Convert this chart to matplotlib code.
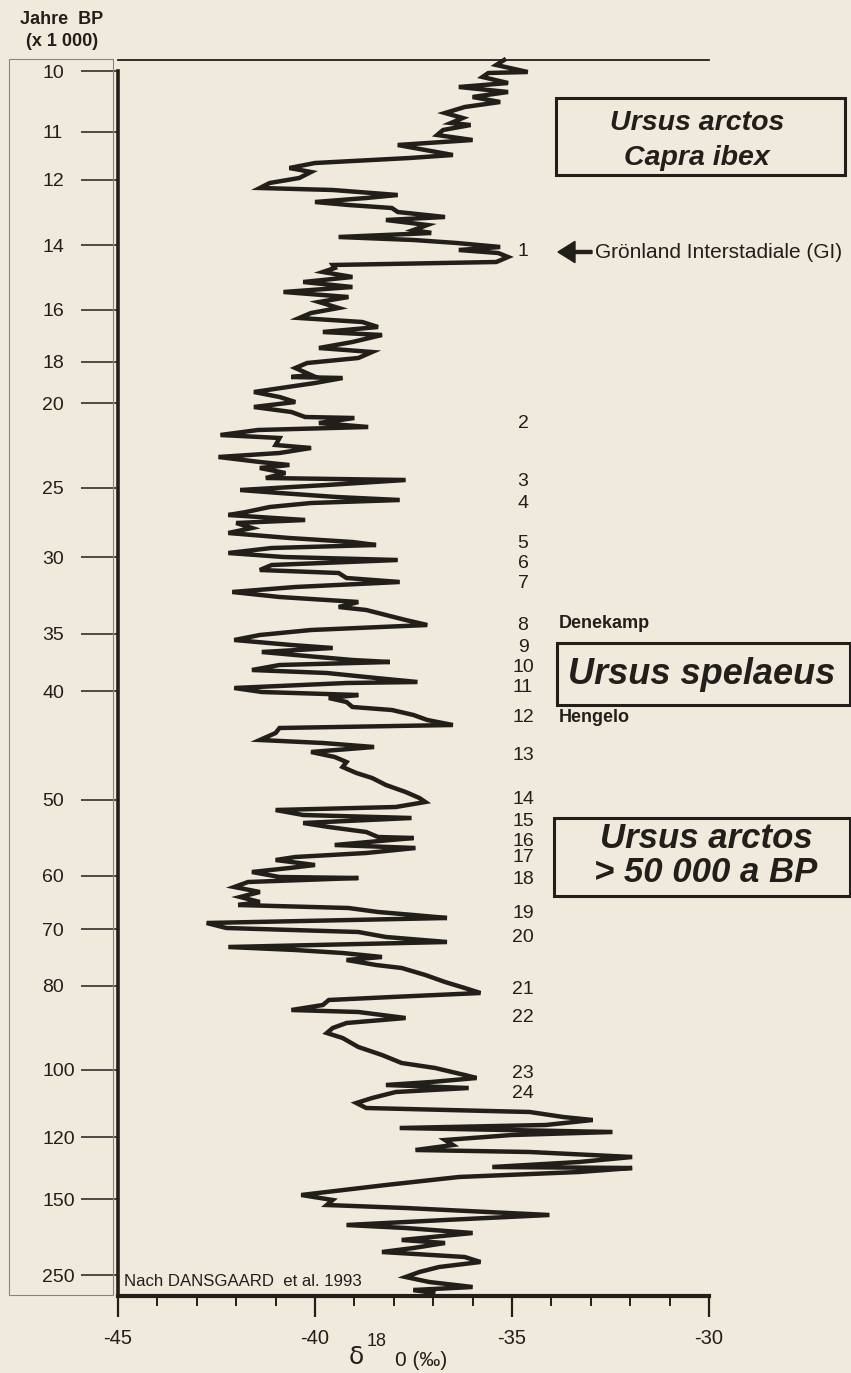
import matplotlib.pyplot as plt
from matplotlib.patches import Rectangle, FancyArrow
from matplotlib.ticker import MultipleLocator

# GRIP-Kurve: Kerntiefe (relative Einheiten) und delta 18 O (Promille)
tiefe = [0, 5, 12, 13, 17, 23, 27, 32, 37, 42, 47, 53, 58, 63, 65, 70, 75, 80, 85, 90,
         95, 98, 103, 108, 112, 118, 123, 128, 130, 135, 138, 142, 145, 148, 152, 157, 160, 165, 170, 173,
         177, 180, 183, 187, 190, 193, 197, 202, 205, 208, 212, 217, 222, 227, 232, 237, 242, 248, 253, 258,
         262, 267, 272, 275, 282, 288, 292, 298, 303, 308, 315, 317, 318, 323, 332, 337, 342, 347, 352, 357,
         358, 363, 367, 370, 375, 378, 385, 388, 393, 397, 402, 405, 408, 413, 418, 420, 425, 430, 433, 437,
         440, 443, 447, 452, 455, 460, 463, 468, 473, 478, 482, 485, 488, 493, 497, 500, 505, 510, 513, 518,
         522, 527, 532, 537, 542, 547, 550, 555, 560, 565, 570, 575, 580, 585, 588, 592, 595, 600, 602, 605,
         610, 613, 618, 622, 623, 628, 632, 635, 638, 642, 647, 650, 655, 660, 665, 668, 673, 680, 683, 687,
         692, 697, 702, 707, 713, 718, 725, 732, 738, 742, 747, 750, 755, 758, 763, 767, 772, 777, 778, 785,
         788, 793, 797, 800, 805, 808, 812, 817, 818, 822, 827, 832, 837, 842, 845, 848, 852, 855, 858, 863,
         868, 872, 877, 882, 887, 890, 893, 897, 900, 905, 908, 915, 922, 928, 933, 937, 940, 945, 950, 952,
         955, 958, 963, 968, 973, 978, 987, 995, 1003, 1008, 1015, 1018, 1022, 1025, 1028, 1032, 1038, 1043, 1048, 1052,
         1057, 1060, 1065, 1068, 1072, 1075, 1080, 1085, 1090, 1092, 1097, 1102, 1107, 1108, 1112, 1117, 1122, 1125, 1135, 1140,
         1145, 1148, 1155, 1160, 1165, 1168, 1173, 1180, 1183, 1188, 1192, 1197, 1202, 1207, 1212, 1217, 1222, 1227, 1230, 1233]
d18o = [-35.2, -35.4, -34.6, -35.6, -35.75, -35.1, -36.35, -35.1, -36.0, -35.3, -36.2, -36.7, -36.25, -36.55, -36.05, -36.75, -36.9, -36.0, -37.9, -37.2,
        -36.5, -37.6, -40.0, -40.65, -40.1, -40.4, -41.15, -41.4, -39.55, -37.9, -38.7, -40.0, -39.15, -38.05, -37.9, -36.7, -38.2, -37.15, -37.5, -37.05,
        -39.4, -37.5, -36.4, -35.3, -36.35, -35.35, -35.1, -35.4, -39.55, -39.5, -39.8, -39.05, -40.3, -39.05, -40.8, -39.15, -39.9, -39.4, -40.1, -40.4,
        -38.8, -38.4, -39.8, -38.3, -39.05, -39.9, -38.55, -38.9, -40.2, -40.5, -40.1, -40.6, -39.3, -40.0, -41.55, -40.9, -40.5, -41.55, -40.6, -40.25,
        -39.0, -39.9, -38.65, -41.45, -42.4, -40.9, -41.0, -40.1, -40.9, -42.45, -41.4, -40.65, -41.4, -40.75, -41.25, -37.7, -39.7, -41.9, -40.9, -39.45,
        -37.85, -40.1, -41.15, -41.75, -42.2, -40.25, -42.0, -41.6, -42.2, -40.65, -39.05, -38.45, -41.1, -42.2, -40.8, -37.9, -41.1, -41.4, -39.4, -39.2,
        -37.85, -40.5, -42.1, -40.9, -38.9, -39.4, -38.7, -38.2, -37.7, -37.15, -40.1, -41.4, -42.05, -40.6, -39.55, -41.35, -40.5, -39.05, -38.1, -40.9,
        -41.6, -39.7, -38.45, -37.4, -39.2, -42.05, -41.35, -38.9, -39.65, -39.2, -39.05, -38.05, -37.5, -37.15, -36.5, -40.9, -41.0, -41.4, -39.8, -38.5,
        -40.1, -39.5, -39.2, -39.3, -38.95, -38.55, -38.2, -37.7, -37.35, -37.2, -37.95, -41.0, -40.3, -37.55, -40.3, -39.65, -38.7, -38.4, -37.5, -39.5,
        -37.45, -38.7, -40.5, -41.0, -40.0, -40.65, -41.6, -40.9, -38.9, -41.7, -42.05, -41.4, -41.9, -41.4, -41.95, -39.15, -38.4, -37.5, -36.65, -42.75,
        -42.25, -38.9, -38.2, -36.65, -42.2, -40.5, -39.3, -38.3, -39.2, -38.45, -37.8, -37.2, -36.7, -36.2, -35.8, -38.05, -39.65, -39.8, -40.6, -38.9,
        -38.3, -37.7, -39.2, -39.55, -39.7, -39.3, -38.9, -38.3, -37.8, -36.95, -36.2, -35.9, -37.05, -38.2, -36.1, -37.95, -38.55, -38.95, -38.7, -34.55,
        -33.7, -32.95, -34.15, -37.85, -32.45, -35.0, -36.7, -36.5, -37.45, -34.55, -31.95, -33.3, -35.5, -31.95, -33.3, -36.35, -37.5, -38.2, -40.35, -39.55,
        -39.7, -37.7, -34.05, -36.7, -39.2, -37.7, -36.0, -37.8, -36.7, -37.5, -38.3, -36.2, -35.8, -36.85, -37.35, -37.7, -37.1, -36.0, -37.5, -37.0]

# Altersskala (Jahre BP x 1000) an der Kerntiefe
tick_tiefe = [11, 72, 120, 185, 250, 302, 343, 428, 497, 574, 631, 740, 816, 869, 926, 1010, 1077, 1139, 1215]
tick_alter = ["10", "11", "12", "14", "16", "18", "20", "25", "30", "35", "40", "50", "60", "70", "80",
              "100", "120", "150", "250"]

# Groenland-Interstadiale 1-24
gi_nr = [str(i) for i in range(1, 25)]
gi_tiefe = [192, 364, 422, 443, 484, 504, 524, 565, 587, 607, 627, 658, 696, 740, 761, 781, 798, 819,
            853, 878, 930, 958, 1014, 1034]

W, H = 851, 1373
bg = "#f0eadc"
ink = "#221e1a"
plt.rcParams["font.family"] = ["Liberation Sans", "DejaVu Sans"]


def fx(x):
    return x / W


def fy(y):
    return 1 - y / H


fig = plt.figure(figsize=(W / 100, H / 100), dpi=100, facecolor=bg)
ax = fig.add_axes([fx(118), fy(1296), fx(709 - 118), (1296 - 60) / H])
ax.set_facecolor(bg)

ax.plot(d18o, tiefe, color=ink, lw=3.2, solid_joinstyle="miter", clip_on=False)

ax.set_xlim(-45, -30)
ax.set_ylim(1236, 0)

# Achsen
ax.spines["right"].set_visible(False)
ax.spines["left"].set_linewidth(2.6)
ax.spines["left"].set_bounds(tick_tiefe[0], 1236)
ax.spines["bottom"].set_linewidth(3.0)
ax.spines["top"].set_linewidth(1.3)
for s in ax.spines.values():
    s.set_color(ink)

ax.set_xticks([-45, -40, -35, -30])
ax.set_xticklabels(["-45", "-40", "-35", "-30"])
ax.xaxis.set_minor_locator(MultipleLocator(1))
ax.tick_params(axis="x", which="major", length=15, width=1.6, color=ink, pad=9,
               labelsize=14.5, labelcolor=ink)
ax.tick_params(axis="x", which="minor", length=7, width=1.4, color=ink)

ax.set_yticks(tick_tiefe)
ax.set_yticklabels(tick_alter)
ax.tick_params(axis="y", which="major", length=26.5, width=1.1, color=ink, pad=28,
               labelsize=14, labelcolor=ink)
for lab in ax.get_yticklabels():
    lab.set_horizontalalignment("left")

# heller Rahmen um die Altersskala
fig.patches.append(Rectangle((fx(9), fy(1295)), fx(113 - 9), (1295 - 59) / H, transform=fig.transFigure,
                             fill=False, ec="#8a857c", lw=0.8))

fig.text(fx(62), fy(20), "Jahre  BP", ha="center", va="center", fontsize=13, fontweight="bold", color=ink)
fig.text(fx(62), fy(42), "(x 1 000)", ha="center", va="center", fontsize=13, fontweight="bold", color=ink)

# Achsenbeschriftung
fig.text(fx(356), fy(1357), "δ", ha="center", va="center", fontsize=18, color=ink, family=["DejaVu Sans"])
fig.text(fx(377), fy(1342), "18", ha="center", va="center", fontsize=13, color=ink)
fig.text(fx(395), fy(1361), "0 (‰)", ha="left", va="center", fontsize=15, color=ink)

fig.text(fx(124), fy(1282), "Nach DANSGAARD  et al. 1993", ha="left", va="center", fontsize=12.1, color=ink)

# GI-Nummern
for nr, t in zip(gi_nr, gi_tiefe):
    ax.text(-34.72, t, nr, ha="center", va="center", fontsize=14, color=ink, clip_on=False)

fig.text(fx(595), fy(252), "Grönland Interstadiale (GI)", ha="left", va="center", fontsize=15, color=ink)
fig.patches.append(FancyArrow(fx(592), fy(252), fx(558 - 592), 0, width=0.0022,
                              head_width=0.0155, head_length=fx(17), length_includes_head=True,
                              transform=fig.transFigure, color=ink))

# Kaesten
kasten = [(556, 98, 845, 175), (557, 643, 850, 705), (554, 818, 850, 896)]
for x0, y0, x1, y1 in kasten:
    fig.patches.append(Rectangle((fx(x0), fy(y1)), fx(x1 - x0), (y1 - y0) / H, transform=fig.transFigure,
                                 fill=False, ec=ink, lw=2.2))

bi = dict(ha="center", va="center", fontweight="bold", style="italic", color=ink)
fig.text(fx(697), fy(123), "Ursus arctos", fontsize=20.5, **bi)
fig.text(fx(697), fy(158), "Capra ibex", fontsize=20.5, **bi)
fig.text(fx(702), fy(674), "Ursus spelaeus", fontsize=26, **bi)
fig.text(fx(706), fy(838), "Ursus arctos", fontsize=25, **bi)
fig.text(fx(706), fy(872), "> 50 000 a BP", fontsize=25, **bi)

fig.text(fx(559), fy(623), "Denekamp", ha="left", va="center", fontsize=13, fontweight="bold", color=ink)
fig.text(fx(559), fy(718), "Hengelo", ha="left", va="center", fontsize=13, fontweight="bold", color=ink)

fig.savefig("out.png", dpi=100, facecolor=bg)
